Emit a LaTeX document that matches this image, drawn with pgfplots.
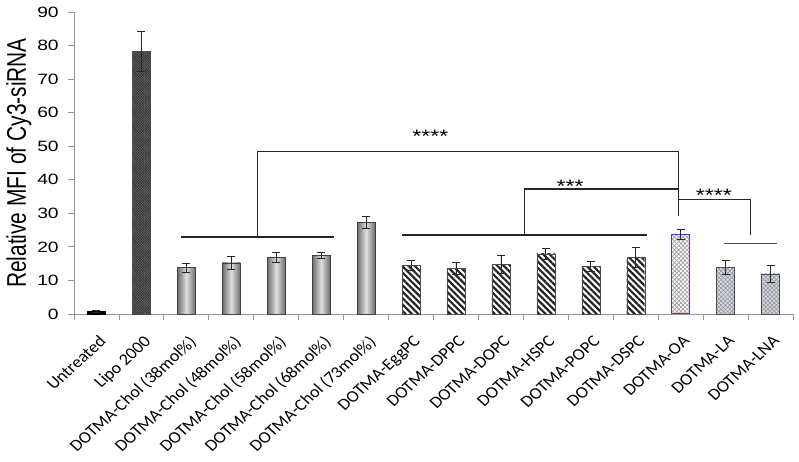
\documentclass[border=0pt]{standalone}
\usepackage{fontspec}
\setmainfont{Liberation Sans}
\newfontfamily\calibri{Carlito}
\usepackage{pgfplots}
\pgfplotsset{compat=1.18}
\usetikzlibrary{patterns,patterns.meta}

\definecolor{axgray}{RGB}{150,150,150}
\definecolor{lablue}{RGB}{212,220,234}
\definecolor{oapurple}{RGB}{112,48,160}

\begin{document}
\begin{tikzpicture}
\path[use as bounding box] (0,0) rectangle (799bp,462bp);
\begin{axis}[
  at={(74bp,148bp)}, anchor=south west,
  scale only axis, width=719bp, height=302bp,
  ybar, bar width=18bp, bar shift=0pt,
  xmin=-0.5, xmax=15.5, ymin=0, ymax=90,
  axis x line*=bottom, axis y line*=left,
  axis line style={-, draw=axgray, line width=0.8bp},
  tick style={draw=axgray, line width=0.8bp},
  tick align=outside, major tick length=6bp,
  ytick={0,10,...,90},
  yticklabel style={font=\fontsize{15}{18}\selectfont, xscale=1.29, inner sep=2bp, xshift=-5bp},
  /pgf/number format/assume math mode=true,
  xtick={-0.5,0.5,...,15.5},
  x tick label as interval,
  xticklabels={Untreated, Lipo 2000, DOTMA-Chol (38mol\%), DOTMA-Chol (48mol\%),
    DOTMA-Chol (58mol\%), DOTMA-Chol (68mol\%), DOTMA-Chol (73mol\%),
    DOTMA-EggPC, DOTMA-DPPC, DOTMA-DOPC, DOTMA-HSPC, DOTMA-POPC, DOTMA-DSPC,
    DOTMA-OA, DOTMA-LA, DOTMA-LNA},
  xticklabel style={font=\calibri\fontsize{16.5}{19}\selectfont, xshift=1.5bp, yshift=-13bp, xscale=1.1, rotate=45, anchor=north east, inner sep=1bp},
  ylabel={Relative MFI of Cy3-siRNA},
  ylabel style={font=\fontsize{21}{24}\selectfont, at={(axis description cs:-0.0765,0.5)}, anchor=center, yscale=1.29},
  error bars/y dir=both, error bars/y explicit,
  error bars/error bar style={black!85, line width=0.8bp},
  error bars/error mark options={rotate=90, mark size=4bp, black!85, line width=0.8bp},
  clip=false,
]
% Untreated
\addplot[fill=black, draw=black] coordinates {(0,0.8) +- (0,0.3)};
% Lipo 2000
\addplot[fill=black!55, draw=black!70, postaction={pattern={Hatch[angle=45,distance=1.8bp,line width=0.6bp]}, pattern color=black!80}] coordinates {(1,78.2) +- (0,6)};
% DOTMA-Chol
\addplot[draw=gray!50!black, left color=gray!85!black, right color=gray!85!black, middle color=gray!25] coordinates {(2,13.8) +- (0,1.4)};
\addplot[draw=gray!50!black, left color=gray!85!black, right color=gray!85!black, middle color=gray!25] coordinates {(3,15.2) +- (0,2.0)};
\addplot[draw=gray!50!black, left color=gray!85!black, right color=gray!85!black, middle color=gray!25] coordinates {(4,16.9) +- (0,1.5)};
\addplot[draw=gray!50!black, left color=gray!85!black, right color=gray!85!black, middle color=gray!25] coordinates {(5,17.5) +- (0,1.0)};
\addplot[draw=gray!50!black, left color=gray!85!black, right color=gray!85!black, middle color=gray!25] coordinates {(6,27.3) +- (0,1.9)};
% phospholipids
\addplot[draw=black!70, fill=white, postaction={pattern={Lines[angle=-45,distance=4.5bp,line width=2.2bp]}, pattern color=black!85}] coordinates {(7,14.5) +- (0,1.5)};
\addplot[draw=black!70, fill=white, postaction={pattern={Lines[angle=-45,distance=4.5bp,line width=2.2bp]}, pattern color=black!85}] coordinates {(8,13.6) +- (0,1.8)};
\addplot[draw=black!70, fill=white, postaction={pattern={Lines[angle=-45,distance=4.5bp,line width=2.2bp]}, pattern color=black!85}] coordinates {(9,14.8) +- (0,2.7)};
\addplot[draw=black!70, fill=white, postaction={pattern={Lines[angle=-45,distance=4.5bp,line width=2.2bp]}, pattern color=black!85}] coordinates {(10,17.9) +- (0,1.7)};
\addplot[draw=black!70, fill=white, postaction={pattern={Lines[angle=-45,distance=4.5bp,line width=2.2bp]}, pattern color=black!85}] coordinates {(11,14.1) +- (0,1.5)};
\addplot[draw=black!70, fill=white, postaction={pattern={Lines[angle=-45,distance=4.5bp,line width=2.2bp]}, pattern color=black!85}] coordinates {(12,16.9) +- (0,3.0)};
% fatty acids
\addplot[draw=oapurple, line width=1bp, fill=white, postaction={pattern={Hatch[angle=45,distance=3bp,line width=0.7bp]}, pattern color=gray!75}] coordinates {(13,23.8) +- (0,1.5)};
\addplot[draw=gray!60!black, fill=lablue, postaction={pattern={Hatch[angle=45,distance=3bp,line width=0.7bp]}, pattern color=gray!80}] coordinates {(14,13.9) +- (0,2.2)};
\addplot[draw=gray!60!black, fill=lablue, postaction={pattern={Hatch[angle=45,distance=3bp,line width=0.7bp]}, pattern color=gray!80}] coordinates {(15,12.0) +- (0,2.5)};

% significance brackets
\draw[black!85, line width=1.4bp] (1.88,23) -- (5.28,23);
\draw[black!85, line width=1.4bp] (3.59,23) -- (3.59,48.5) -- (12.95,48.5) -- (12.95,29.3);
\draw[black!85, line width=1.4bp] (6.81,23.5) -- (12.25,23.5);
\draw[black!85, line width=1.4bp] (9.53,23.5) -- (9.53,37.3) -- (12.97,37.3);
\draw[black!85, line width=1.4bp] (12.95,34.2) -- (14.56,34.2) -- (14.56,23.5);
\draw[black!70, line width=1.6bp] (13.97,21.0) -- (15.15,21.0);
\node[font=\fontsize{18}{20}\selectfont, xscale=1.29, anchor=base] at (7.43,51.1) {****};
\node[font=\fontsize{18}{20}\selectfont, xscale=1.29, anchor=base] at (10.54,36.2) {***};
\node[font=\fontsize{18}{20}\selectfont, xscale=1.29, anchor=base] at (13.74,33.6) {****};
\end{axis}
\end{tikzpicture}
\end{document}
